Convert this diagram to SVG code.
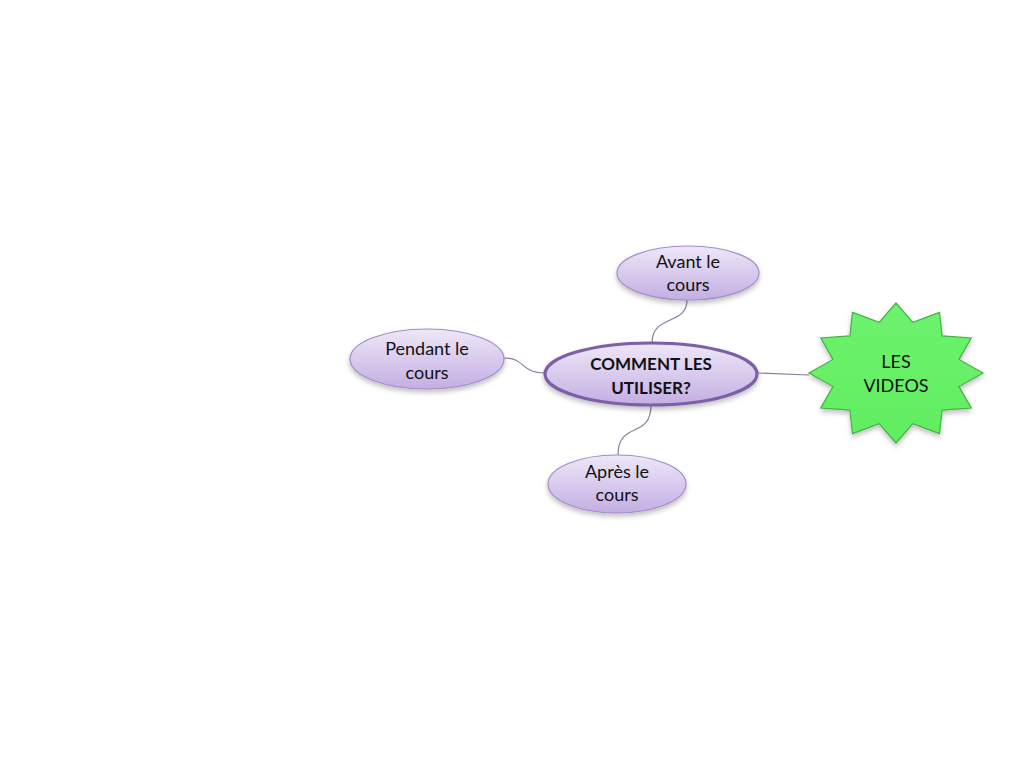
<svg xmlns="http://www.w3.org/2000/svg" width="1024" height="768" viewBox="0 0 1024 768">
<defs>
<linearGradient id="lav" x1="0" y1="0" x2="0" y2="1">
<stop offset="0" stop-color="#eee7f7"/>
<stop offset="0.5" stop-color="#d9cbee"/>
<stop offset="1" stop-color="#c3aee2"/>
</linearGradient>
<linearGradient id="grn" x1="0" y1="0" x2="0" y2="1">
<stop offset="0" stop-color="#6ef26e"/>
<stop offset="1" stop-color="#60ee60"/>
</linearGradient>
<filter id="sh" x="-20%" y="-20%" width="140%" height="160%">
<feDropShadow dx="0" dy="3" stdDeviation="2.5" flood-color="#000" flood-opacity="0.25"/>
</filter>
</defs>
<style>
.sub{fill:url(#lav);stroke:#a58cc8;stroke-width:1.2}
.main{fill:url(#lav);stroke:#7c5fa6;stroke-width:3.2}
.lbl{font-family:Lato,"Liberation Sans",sans-serif;font-size:18px;fill:#111;text-anchor:middle}
.bold{font-weight:bold;font-size:17px}
.con{fill:none;stroke:#8a7c9c;stroke-width:1.2}
</style>
<rect width="1024" height="768" fill="#fff"/>
<g id="connectors">
<path class="con" d="M687,300 C687,326 652,314 652,343"/>
<path class="con" d="M504,358 C526,358 520,373 545,373"/>
<path class="con" d="M651,405 C651,440 618,420 618,455"/>
<path class="con" d="M757,373 L809,375"/>
</g>
<g id="node-avant">
<ellipse class="sub" cx="688" cy="273" rx="71" ry="27" filter="url(#sh)"/>
<text class="lbl" x="688" y="268">Avant le</text>
<text class="lbl" x="688" y="291">cours</text>
</g>
<g id="node-pendant">
<ellipse class="sub" cx="427" cy="359" rx="77" ry="30" filter="url(#sh)"/>
<text class="lbl" x="427" y="355">Pendant le</text>
<text class="lbl" x="427" y="379">cours</text>
</g>
<g id="node-apres">
<ellipse class="sub" cx="617" cy="484" rx="69" ry="29" filter="url(#sh)"/>
<text class="lbl" x="617" y="478">Après le</text>
<text class="lbl" x="617" y="501">cours</text>
</g>
<g id="node-main">
<ellipse class="main" cx="651" cy="374" rx="106" ry="31" filter="url(#sh)"/>
<text class="lbl bold" x="651" y="370">COMMENT LES</text>
<text class="lbl bold" x="651" y="394">UTILISER?</text>
</g>
<g id="node-videos">
<polygon fill="url(#grn)" stroke="#45b045" stroke-width="1.2" filter="url(#sh)" points="983,373 959,359.4 971.3,338 942.1,335.9 939.5,312.4 912.9,322.3 896,303 879.1,322.3 852.5,312.4 849.9,335.9 820.7,338 833,359.4 809,373 833,386.6 820.7,408 849.9,410.1 852.5,433.6 879.1,423.7 896,443 912.9,423.7 939.5,433.6 942.1,410.1 971.3,408 959,386.6"/>
<text class="lbl" x="896" y="368">LES</text>
<text class="lbl" x="896" y="392">VIDEOS</text>
</g>
</svg>
